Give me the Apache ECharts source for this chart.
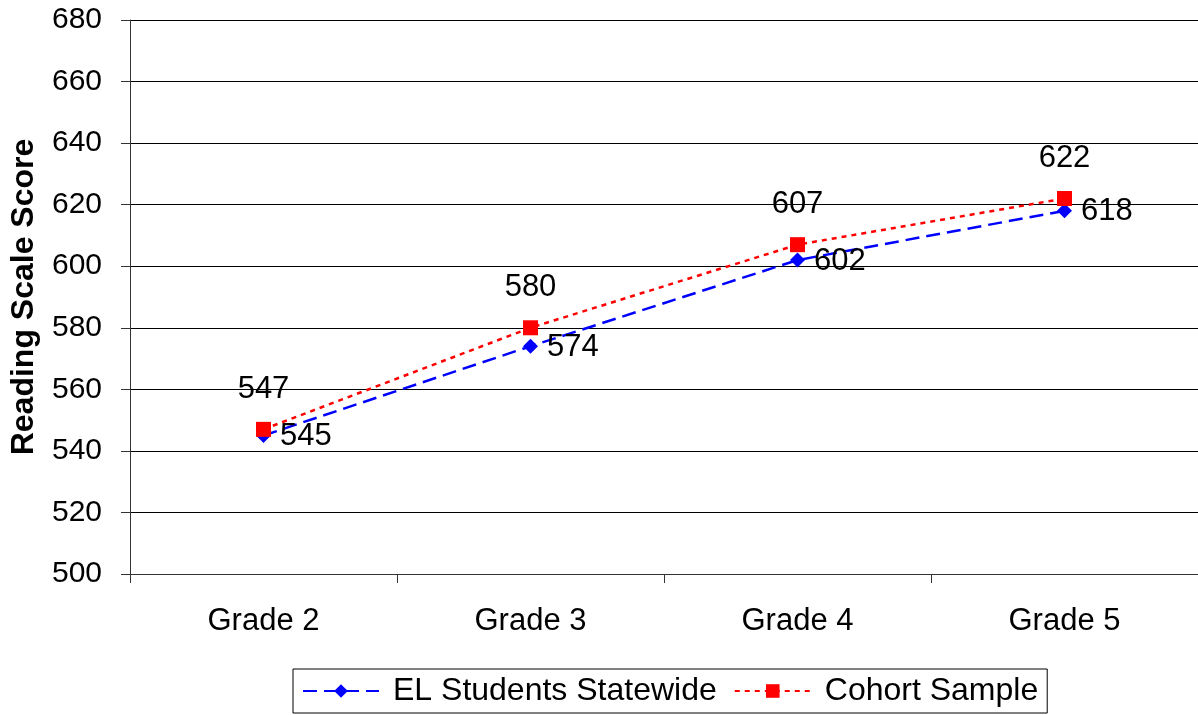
<!DOCTYPE html>
<html>
<head>
<meta charset="utf-8">
<script src="https://cdn.jsdelivr.net/npm/echarts@6/dist/echarts.min.js"></script>
<style>
  html, body { margin: 0; padding: 0; background: #fff; }
  #main { width: 1198px; height: 715px; }
</style>
</head>
<body>
<div id="main"></div>
<script>
var grades = ['Grade 2', 'Grade 3', 'Grade 4', 'Grade 5'];
var elStatewide = [545, 574, 602, 618];
var cohortSample = [547, 580, 607, 622];

var FONT = '"Liberation Sans", Arial, sans-serif';

var myChart = echarts.init(document.getElementById('main'));

myChart.setOption({
  backgroundColor: '#fff',
  animation: false,
  textStyle: { fontFamily: FONT },
  grid: { left: 128, right: 0, top: 20, bottom: 141, containLabel: false },
  legend: {
    bottom: 2,
    left: 293,
    padding: [6, 9, 6, 9],
    borderColor: '#000',
    borderWidth: 1,
    itemWidth: 76,
    itemHeight: 17,
    itemGap: 17,
    textStyle: { fontSize: 32, color: '#000', fontFamily: FONT, padding: [0, 0, 0, 9] },
    data: ['EL Students Statewide', 'Cohort Sample']
  },
  xAxis: {
    type: 'category',
    data: grades,
    boundaryGap: true,
    axisLine: { lineStyle: { color: '#333', width: 1 } },
    axisTick: { show: true, length: 9, inside: false, lineStyle: { color: '#333' } },
    axisLabel: { fontSize: 31, color: '#000', margin: 32, fontFamily: FONT },
    splitLine: { show: false }
  },
  yAxis: {
    type: 'value',
    min: 500,
    max: 680,
    interval: 20,
    name: 'Reading Scale Score',
    nameLocation: 'middle',
    nameGap: 90,
    nameTextStyle: { fontSize: 32, fontWeight: 'bold', color: '#000', fontFamily: FONT },
    axisLine: { show: true, lineStyle: { color: '#333', width: 1 } },
    axisTick: { show: true, length: 9, lineStyle: { color: '#333' } },
    axisLabel: { fontSize: 30, color: '#000', margin: 28, fontFamily: FONT },
    splitLine: { show: true, lineStyle: { color: '#000', width: 1 } }
  },
  series: [
    {
      name: 'EL Students Statewide',
      type: 'line',
      data: elStatewide,
      symbol: 'diamond',
      symbolSize: 15,
      itemStyle: { color: '#0000ff' },
      lineStyle: { color: '#0000ff', width: 2.5, type: [14, 7] },
      label: {
        show: true,
        position: 'right',
        distance: 9,
        offset: [0, 1],
        fontSize: 31,
        color: '#000',
        fontFamily: FONT
      },
      z: 2
    },
    {
      name: 'Cohort Sample',
      type: 'line',
      data: cohortSample,
      symbol: 'rect',
      symbolSize: 15,
      itemStyle: { color: '#ff0000' },
      lineStyle: { color: '#ff0000', width: 2.5, type: [5, 5] },
      label: {
        show: true,
        position: 'top',
        distance: 17,
        fontSize: 31,
        color: '#000',
        fontFamily: FONT
      },
      z: 3
    }
  ]
});
</script>
</body>
</html>
